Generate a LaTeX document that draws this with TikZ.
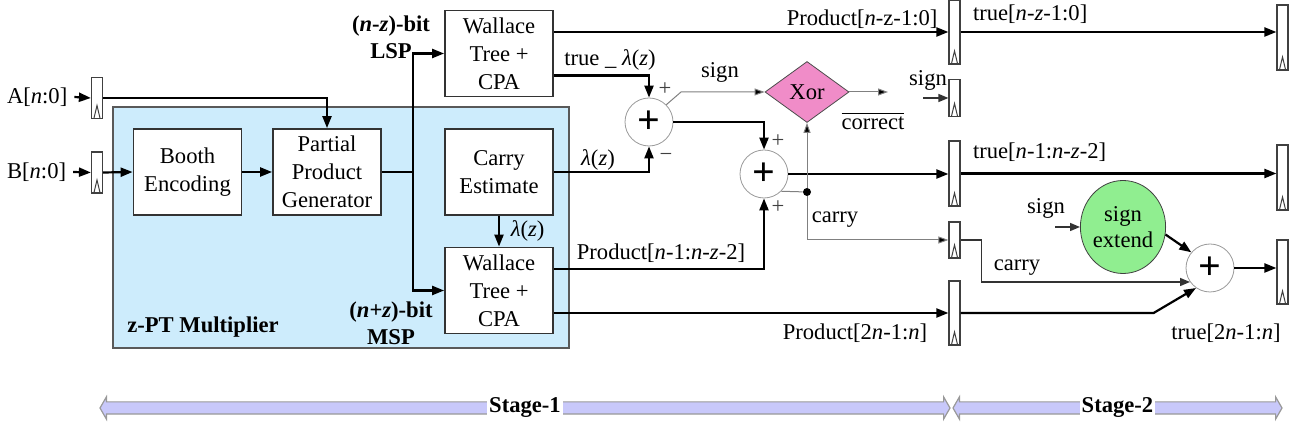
\documentclass[tikz,border=0pt]{standalone}
\usepackage{fontspec}
\setmainfont{Liberation Serif}
\usetikzlibrary{shapes.geometric,shapes.arrows,arrows.meta}
\definecolor{zptblue}{RGB}{205,236,252}
\definecolor{xorpink}{RGB}{240,140,200}
\definecolor{extgreen}{RGB}{144,238,144}
\definecolor{stagepurple}{RGB}{200,200,250}

\begin{document}
\begin{tikzpicture}[x=.5pt,y=-.5pt,font=\fontsize{11.3}{14}\selectfont,
   unit/.style={draw=black!80,line width=.9pt,fill=white,minimum width=54pt,
      minimum height=43pt,align=center,inner sep=1pt},
   zpt/.style={draw=black!65,line width=1pt,fill=zptblue,minimum width=228pt,
      minimum height=120.5pt},
   reg/.style={draw=black!75,fill=white,line width=.6pt,minimum width=5.5pt,inner sep=0pt,
      path picture={\draw[line width=.5pt]
         ([xshift=1.2pt]path picture bounding box.south west) --
         ([yshift=6.5pt]path picture bounding box.south) --
         ([xshift=-1.2pt]path picture bounding box.south east);}},
   adder/.style={circle,draw=black!40,fill=white,minimum size=24pt,inner sep=0pt,
      font=\fontsize{20}{20}\selectfont\bfseries},
   bus/.style={line width=1.1pt,-{Triangle[length=6pt,width=4.5pt]}},
   mid/.style={draw=black!80,line width=.7pt,-{Triangle[length=5pt,width=4pt]}},
   sig/.style={draw=black!50,line width=.5pt,-{Triangle[length=5pt,width=3.5pt,fill=black]}},
   stage/.style={double arrow,draw=black!40,line width=.6pt,fill=stagepurple,
      double arrow head extend=2.5pt,double arrow tip angle=120,
      inner xsep=0pt,inner ysep=2.75pt},
   tag/.style={text=black!75,inner sep=1pt}]

\useasboundingbox (0,0) rectangle (1294,426);

\node[zpt] (zpt) at (341,227.5) {};
\node[font=\fontsize{11.3}{14}\selectfont\bfseries] (zptlbl) at (203,327) {z-PT Multiplier};

\node[anchor=west] (atxt) at (0,97) {A[\textit{n}:0]};
\node[anchor=west] (btxt) at (0,172) {B[\textit{n}:0]};
\node[reg,minimum height=20.5pt] (rega) at (97,98) {};
\node[reg,minimum height=20.5pt] (regb) at (97,172.5) {};
\node[unit] (booth) at (187.5,172) {Booth\\Encoding};
\node[unit] (ppg) at (327,172) {Partial\\Product\\Generator};
\node[unit] (wlsp) at (499,53.5) {Wallace\\Tree +\\CPA};
\node[unit] (cest) at (499,172) {Carry\\Estimate};
\node[unit] (wmsp) at (499,290.5) {Wallace\\Tree +\\CPA};
\coordinate (split) at (413,172);
\node[align=center,font=\fontsize{11.3}{13.5}\selectfont\bfseries] (lsplbl) at (391,37)
   {(\textit{n}-\textit{z})-bit\\LSP};
\node[align=center,font=\fontsize{11.3}{13.5}\selectfont\bfseries] (msplbl) at (391,323)
   {(\textit{n}+\textit{z})-bit\\MSP};

\node[adder] (add1) at (649,122) {+};
\node[adder] (add2) at (764,174) {+};
\node[diamond,draw=black!70,fill=xorpink,minimum width=42pt,minimum height=30.5pt,
   aspect=1.38,inner sep=0pt] (xor) at (807,92) {Xor};
\node[circle,fill,inner sep=0pt,minimum size=4pt] (dot) at (807,192) {};
\coordinate (sbend) at (681,92);
\coordinate (corr) at (888,92);
\coordinate (sgnin) at (923,98);

\node[reg,minimum height=32pt] (r1) at (954.5,32) {};
\node[reg,minimum height=18.5pt] (rsign) at (954.5,98) {};
\node[reg,minimum height=32.5pt] (r3) at (954.5,173.5) {};
\node[reg,minimum height=18pt] (rcarry) at (954.5,240) {};
\node[reg,minimum height=32pt] (r5) at (954.5,313) {};
\node[reg,minimum height=32.5pt] (o1) at (1282.5,37.5) {};
\node[reg,minimum height=32.5pt] (o3) at (1282.5,177.5) {};
\node[reg,minimum height=32pt] (o4) at (1282.5,272) {};
\node[ellipse,draw=black!75,fill=extgreen,minimum width=35pt,minimum height=46.5pt,
   inner sep=0pt,align=center,font=\fontsize{11.3}{13}\selectfont] (sext) at (1123,227)
   {sign\\extend};
\node[adder] (add3) at (1210,268) {+};
\coordinate (sgnext) at (1055,227);

\draw[bus] (atxt.east) -- (rega.west);
\draw[bus] (rega.east) -| (ppg.north);
\draw[bus] (btxt.east) -- (regb.west);
\draw[bus] (regb.east) -- (booth.west);
\draw[bus] (booth) -- (ppg);
\draw[line width=1.1pt] (ppg.east) -- (split);
\draw[bus] (split) |- (wlsp.west);
\draw[bus] (split) |- (wmsp.west);
\draw[bus] (cest.south) -- node[right,xshift=2pt] {\textit{λ}(\textit{z})} (wmsp.north);

\draw[bus] (wlsp.east |- r1) -- node[pos=.98,above left,inner sep=1pt]
   {Product[\textit{n}-z-1:0]} (r1.west);
\draw[bus] ([yshift=-11pt]wlsp.east) -| (add1.north);
\draw[bus] (cest.east) -| (add1.south);
\draw[bus] (add1.east) -| (add2.north);
\draw[bus] ([yshift=10.75pt]wmsp.east) -| (add2.south);
\draw[bus] (wmsp.east |- r5) -- (r5.west);
\draw[bus] (add2.east) -- (add2.east -| r3.west);
\draw[sig] (add1.north east) -- (sbend) -- (xor.west);
\draw[sig] (xor.east) -- (corr);
\draw[draw=black!50,line width=.5pt] (add2.south east) -- (dot);
\draw[sig] (dot) -- (xor.south);
\draw[sig] (dot) |- (rcarry.west);
\draw[mid] (sgnin) -- (rsign.west);

\node (tlam) at (610,60) {true \_ \textit{λ}(\textit{z})};
\node (lam) at (598,160) {\textit{λ}(\textit{z})};
\node (sgn1) at (720,72) {sign};
\node[tag] at (665,89) {+};
\node[tag] at (666,157) {−};
\node[tag] at (778,141) {+};
\node[tag] at (778,207) {+};
\node (corrlbl) at (873,121) {$\overline{\mbox{correct}}$};
\node (sgn2) at (928,80) {sign};
\node (carry1) at (835,220) {carry};
\node (p1) at (661,253) {Product[\textit{n}-1:\textit{n}-\textit{z}-2]};
\node (p2) at (855,333) {Product[2\textit{n}-1:\textit{n}]};

\draw[bus] (r1.east) -- (r1.east -| o1.west);
\draw[bus] (r3.east) -- (r3.east -| o3.west);
\draw[mid] (rcarry.east) -- ++(21,0) |- (add3.215);
\draw[bus] (r5.east) -- ++(193,0) -- (add3.235);
\draw[bus] (sext.-10) -- (add3.140);
\draw[mid] (sgnext) -- (sext.west);
\draw[bus] (add3.east) -- (add3.east -| o4.west);

\node[anchor=west] (t1) at (966,14) {true[\textit{n}-\textit{z}-1:0]};
\node[anchor=west] (t3) at (966,152) {true[\textit{n}-1:\textit{n}-\textit{z}-2]};
\node (carry2) at (1017,268) {carry};
\node (sgn3) at (1046,208) {sign};
\node (t4) at (1226,333) {true[2\textit{n}-1:\textit{n}]};

\node[stage,minimum height=425pt] (st1) at (525,408) {};
\node[stage,minimum height=164.5pt] (st2) at (1117.5,408) {};
\node[fill=white,inner sep=1pt,font=\fontsize{11.3}{14}\selectfont\bfseries] at (st1) {Stage-1};
\node[fill=white,inner sep=1pt,font=\fontsize{11.3}{14}\selectfont\bfseries] at (st2) {Stage-2};

\end{tikzpicture}
\end{document}
